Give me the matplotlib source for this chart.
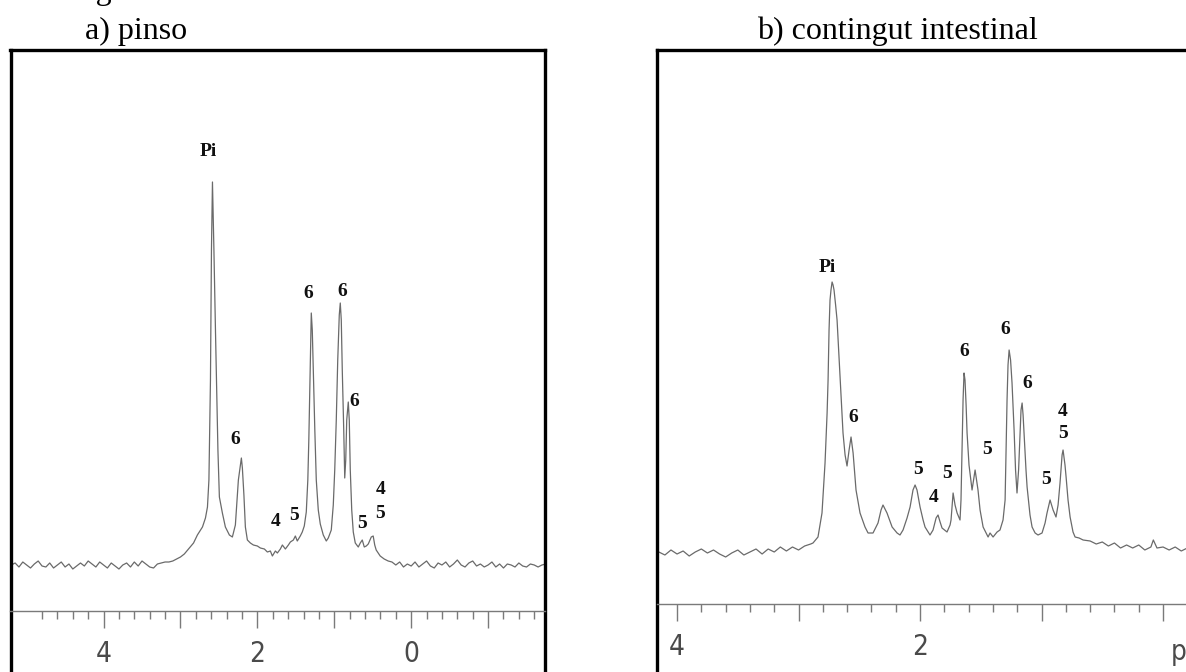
import matplotlib
matplotlib.use("Agg")
import matplotlib.pyplot as plt
from matplotlib.ticker import FixedLocator, FixedFormatter

# ---------------- data: panel a) pinso ----------------
ppm_a = [5.20, 5.15, 5.10, 5.05, 5.00, 4.95, 4.90, 4.85, 4.80, 4.75, 4.70, 4.65,
         4.60, 4.55, 4.50, 4.45, 4.40, 4.35, 4.30, 4.25, 4.20, 4.15, 4.10, 4.05,
         4.00, 3.95, 3.90, 3.85, 3.80, 3.75, 3.70, 3.65, 3.60, 3.55, 3.50, 3.45,
         3.40, 3.35, 3.30, 3.25, 3.20, 3.15, 3.10, 3.05, 3.00, 2.95,
         2.83, 2.78, 2.714, 2.675, 2.649, 2.630, 2.623, 2.610, 2.597, 2.584,
         2.565, 2.545, 2.526, 2.513, 2.494, 2.455, 2.416, 2.364, 2.325, 2.286,
         2.247, 2.221, 2.208, 2.195, 2.175, 2.156, 2.130, 2.091, 2.052, 2.000,
         1.961, 1.909, 1.870, 1.831, 1.805, 1.766, 1.740, 1.701, 1.675, 1.636,
         1.597, 1.571, 1.532, 1.506, 1.481, 1.442, 1.416, 1.390, 1.364, 1.344,
         1.331, 1.318, 1.305, 1.299, 1.286, 1.273, 1.253, 1.234, 1.208, 1.182,
         1.143, 1.104, 1.078, 1.039, 1.013, 0.994, 0.974, 0.955, 0.935, 0.922,
         0.909, 0.896, 0.877, 0.864, 0.851, 0.838, 0.818, 0.805, 0.792, 0.773,
         0.753, 0.727, 0.688, 0.662, 0.636, 0.610, 0.584, 0.558, 0.519, 0.494,
         0.474, 0.455, 0.403, 0.351, 0.299,
         0.25, 0.20, 0.15, 0.10, 0.05, 0.00, -0.05, -0.10, -0.15, -0.20, -0.25,
         -0.30, -0.35, -0.40, -0.45, -0.50, -0.55, -0.60, -0.65, -0.70, -0.75,
         -0.80, -0.85, -0.90, -0.95, -1.00, -1.05, -1.10, -1.15, -1.20, -1.25,
         -1.30, -1.35, -1.40, -1.45, -1.50, -1.55, -1.60, -1.65, -1.70, -1.75]
int_a = [0, 2, -2, 3, 0, -3, 1, 4, -1, -2, 2, -3,
         0, 3, -2, 1, -4, -1, 2, -1, 4, 1, -2, 3,
         0, -3, 2, -1, -4, 0, 2, -2, 3, -1, 4, 1,
         -2, -3, 1, 2, 3, 3, 4, 6, 8, 11,
         22, 30, 38, 47, 58, 85, 118, 185, 315, 383,
         315, 235, 165, 115, 68, 52, 38, 30, 28, 40,
         85, 100, 107, 97, 70, 38, 25, 22, 20, 19,
         17, 16, 13, 14, 9, 14, 12, 16, 20, 16,
         20, 23, 25, 29, 24, 29, 33, 39, 53, 85,
         125, 175, 225, 252, 235, 195, 135, 85, 55, 41,
         30, 24, 27, 35, 60, 95, 145, 205, 250, 262,
         245, 195, 135, 87, 105, 145, 163, 145, 95, 55,
         33, 22, 18, 22, 25, 18, 19, 21, 28, 29,
         20, 15, 9, 6, 4,
         3, 0, 3, -2, 1, -1, 3, -2, 1, 4, -1,
         -3, 2, 0, 3, -2, 1, 5, 0, -2, 2,
         4, -1, 1, -2, 0, 3, -2, 1, -3, 1,
         0, -2, 2, -1, -2, 1, 0, -2, 0, 1]
lab_a_txt = ["Pi", "6", "4", "5", "6", "6", "6", "5", "4", "5"]
lab_a_ppm = [2.636, 2.286, 1.766, 1.519, 1.338, 0.896, 0.740, 0.636, 0.403, 0.403]
lab_a_int = [413, 125, 43, 50, 271, 273, 164, 42, 75, 52]

# ---------------- data: panel b) contingut intestinal ----------------
ppm_b = [4.15, 4.10, 4.05, 4.00, 3.95, 3.90, 3.85, 3.80, 3.75, 3.70, 3.65, 3.60,
         3.55, 3.50, 3.45, 3.40, 3.35, 3.30, 3.25, 3.20, 3.15, 3.10, 3.05, 3.00,
         2.95, 2.90,
         2.881, 2.840, 2.807, 2.782, 2.765, 2.757, 2.749, 2.741, 2.733, 2.724,
         2.716, 2.708, 2.695, 2.683, 2.658, 2.634, 2.617, 2.601, 2.584, 2.568,
         2.551, 2.527, 2.494, 2.453, 2.428, 2.387, 2.346, 2.321, 2.305, 2.272,
         2.230, 2.189, 2.165, 2.140, 2.107, 2.082, 2.058, 2.041, 2.025, 2.000,
         1.975, 1.959, 1.918, 1.893, 1.868, 1.852, 1.835, 1.819, 1.778, 1.753,
         1.745, 1.728, 1.712, 1.695, 1.671, 1.663, 1.654, 1.646, 1.638, 1.630,
         1.621, 1.613, 1.597, 1.572, 1.547, 1.523, 1.506, 1.481, 1.440, 1.424,
         1.399, 1.366, 1.342, 1.317, 1.300, 1.292, 1.284, 1.276, 1.267, 1.255,
         1.243, 1.226, 1.214, 1.202, 1.189, 1.177, 1.169, 1.160, 1.152, 1.144,
         1.128, 1.119, 1.095, 1.078, 1.053, 1.029, 0.996, 0.971, 0.955, 0.930,
         0.905, 0.881, 0.864, 0.848, 0.831, 0.823, 0.807, 0.798, 0.782, 0.765,
         0.741, 0.724, 0.691, 0.658,
         0.60, 0.55, 0.50, 0.45, 0.40, 0.35, 0.30, 0.25, 0.20, 0.15, 0.10,
         0.08, 0.05, 0.00, -0.05, -0.10, -0.15, -0.20, -0.25, -0.30, -0.40,
         -0.50, -0.55]
int_b = [0, -3, 2, -2, 1, -4, 0, 3, -1, 2, -2, -5,
         -1, 2, -3, 0, 3, -2, 3, 0, 5, 1, 5, 2,
         6, 8,
         9, 15, 39, 89, 139, 172, 222, 252, 262, 270,
         267, 262, 247, 232, 175, 119, 97, 86, 102, 115,
         99, 62, 39, 25, 19, 19, 29, 42, 47, 39,
         25, 19, 17, 22, 34, 45, 62, 67, 62, 45,
         32, 25, 17, 22, 34, 37, 30, 24, 20, 27,
         32, 59, 47, 39, 32, 52, 105, 152, 179, 172,
         147, 119, 87, 62, 82, 62, 42, 25, 15, 19,
         15, 20, 22, 32, 52, 102, 152, 187, 202, 192,
         169, 122, 82, 59, 82, 119, 142, 149, 137, 119,
         82, 65, 37, 25, 19, 17, 19, 29, 39, 52,
         42, 35, 47, 69, 97, 102, 87, 75, 52, 35,
         20, 15, 14, 12,
         11, 8, 10, 6, 9, 4, 7, 4, 7, 2, 5,
         12, 4, 5, 2, 5, 1, 4, 2, 4, 3,
         2, 3]
lab_b_txt = ["Pi", "6", "5", "4", "5", "6", "5", "6", "6", "5", "4", "5"]
lab_b_ppm = [2.765, 2.551, 2.016, 1.885, 1.778, 1.638, 1.449, 1.300, 1.119, 0.963, 0.823, 0.823]
lab_b_int = [284, 135, 82, 55, 79, 200, 103, 222, 168, 72, 141, 119]

titles = ["a) pinso", "b) contingut intestinal"]

# ---------------- layout helpers ----------------
W, H = 1186, 672
fig = plt.figure(figsize=(W / 100, H / 100), dpi=100)
fig.patch.set_facecolor("white")


def px_axes(x0, y0, x1, y1):
    return fig.add_axes([x0 / W, 1 - y1 / H, (x1 - x0) / W, (y1 - y0) / H])


LINE = "#6a6a6a"
RULER = "#7a7a7a"
serif_bold = dict(family="Liberation Serif", weight="bold", fontsize=14, color="#111111")


def panel(ax, ppm, inten, ltxt, lppm, lint, xlim, ylim, ruler_y, majors, major_labels):
    ax.set_xlim(*xlim)
    ax.set_ylim(*ylim)
    ax.plot(ppm, inten, color=LINE, lw=0.9, solid_joinstyle="round")
    for t, xp, yi in zip(ltxt, lppm, lint):
        ax.text(xp, yi, t, ha="center", va="center", **serif_bold)
    for s in ("left", "right", "top"):
        ax.spines[s].set_linewidth(2.4)
        ax.spines[s].set_color("black")
    ax.spines["bottom"].set_position(("data", ruler_y))
    ax.spines["bottom"].set_color(RULER)
    ax.spines["bottom"].set_linewidth(1.0)
    ax.yaxis.set_visible(False)
    ax.xaxis.set_major_locator(FixedLocator(majors))
    ax.xaxis.set_major_formatter(FixedFormatter(major_labels))
    lo, hi = min(xlim), max(xlim)
    minors = [round(k * 0.2, 2) for k in range(int(lo / 0.2) - 1, int(hi / 0.2) + 2)]
    minors = [m for m in minors if lo <= m <= hi and abs(m - round(m)) > 1e-6]
    ax.xaxis.set_minor_locator(FixedLocator(minors))
    ax.tick_params(axis="x", which="major", direction="out", length=12, width=1.0,
                   color=RULER, pad=9, labelsize=20, labelcolor="#4a4a4a")
    ax.tick_params(axis="x", which="minor", direction="out", length=6, width=1.0,
                   color=RULER)
    for lbl in ax.get_xticklabels():
        lbl.set_fontfamily("DejaVu Sans")
        lbl.set_fontstretch("condensed")
    ax.set_facecolor("white")


# left panel: box x 10.5..545, top at 50
axA = px_axes(10.5, 50, 545, 720)
panel(axA, ppm_a, int_a, lab_a_txt, lab_a_ppm, lab_a_int,
      xlim=(5.21, -1.74), ylim=(-155, 515), ruler_y=-46,
      majors=[4, 3, 2, 1, 0, -1], major_labels=["4", "", "2", "", "0", ""])

# right panel: box starts x 657, top at 49.5; extends beyond the figure
axB = px_axes(657, 49.5, 1230, 720)
panel(axB, ppm_b, int_b, lab_b_txt, lab_b_ppm, lab_b_int,
      xlim=(4.165, -0.551), ylim=(-168, 502.5), ruler_y=-52,
      majors=[4, 3, 2, 1, 0], major_labels=["4", "", "2", "", ""])
axB.text(-0.06, -52 - 21 - 9 * 100 / 72, "ppm", ha="left", va="top",
         fontsize=20, color="#4a4a4a", family="DejaVu Sans", fontstretch="condensed")

# titles
fig.text(85 / W, 1 - 39 / H, titles[0], family="Liberation Serif", fontsize=23,
         ha="left", va="baseline", color="black")
fig.text(757 / W, 1 - 39 / H, titles[1], family="Liberation Serif", fontsize=23,
         ha="left", va="baseline", color="black")
# clipped remnant of the caption line above
fig.text(69 / W, 1 + 1 / H, "Figura", family="Liberation Serif", fontsize=23,
         ha="left", va="baseline", color="black")

fig.savefig("out.png", dpi=100, facecolor="white")
